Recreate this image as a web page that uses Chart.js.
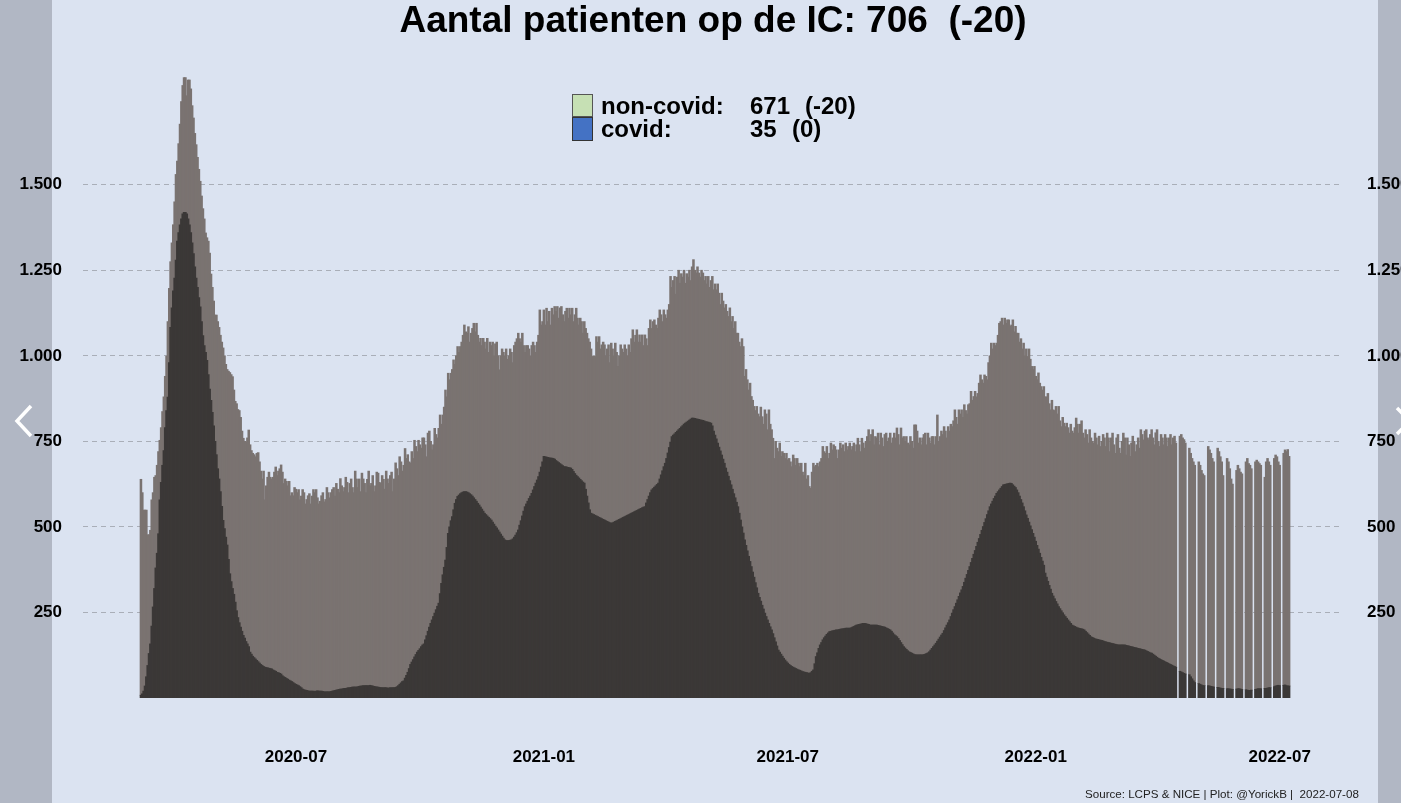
<!DOCTYPE html>
<html>
<head>
<meta charset="utf-8">
<script src="https://cdn.jsdelivr.net/npm/chart.js@4.4.1/dist/chart.umd.min.js"></script>
<style>
html, body { margin: 0; padding: 0; width: 1401px; height: 803px; overflow: hidden; background: #dbe3f1; font-family: 'Liberation Sans', Arial, sans-serif; }
.side { position: absolute; top: 0; height: 803px; background: #b1b7c4; }
#pijlen { position: absolute; left: 0; top: 0; }
#c { position: absolute; left: 0; top: 0; }
.leg { position: absolute; font-weight: bold; font-size: 24px; line-height: 24px; color: #000; white-space: pre; }
.box { position: absolute; left: 572px; width: 19px; border: 1px solid #555; }
#bron { position: absolute; left: 1085px; top: 787px; font-size: 11.6px; line-height: 13px; color: #222; white-space: pre; }
</style>
</head>
<body>
<div class="side" style="left:0;width:52px"></div>
<div class="side" style="left:1378px;width:23px"></div>
<svg id="pijlen" width="1401" height="803">
  <polyline points="31,406 17,421 31,436" fill="none" stroke="#fff" stroke-width="3.5"/>
  <polyline points="1397,408 1410,421 1397,434" fill="none" stroke="#fff" stroke-width="3.5"/>
</svg>
<canvas id="c" width="1401" height="803"></canvas>

<div class="box" style="top:94px;height:21px;background:#c6e0b4"></div>
<div class="box" style="top:117px;height:22px;background:#4472c4;border-color:#333"></div>
<div class="leg" style="left:601px;top:94px">non-covid:</div>
<div class="leg" style="left:750px;top:94px">671</div>
<div class="leg" style="left:805px;top:94px">(-20)</div>
<div class="leg" style="left:601px;top:117px">covid:</div>
<div class="leg" style="left:750px;top:117px">35</div>
<div class="leg" style="left:792px;top:117px">(0)</div>
<div id="bron">Source: LCPS &amp; NICE | Plot: @YorickB |  2022-07-08</div>

<script>
// eerste dag van de reeks, daarna 1 waarde per dag
const startDatum = '2020-03-08';
const tickDatums = ['2020-07-01', '2021-01-01', '2021-07-01', '2022-01-01', '2022-07-01'];
const yTicks = [250, 500, 750, 1000, 1250, 1500];

// totaal op de IC (covid + non-covid), per week zo-za
const totaalIC = [
  639, 600, 549, 549, 549, 477, 477,
  490, 579, 600, 645, 650, 680, 720,
  753, 790, 837, 880, 940, 999, 1100,
  1197, 1275, 1330, 1383, 1450, 1530, 1569,
  1620, 1677, 1743, 1790, 1813, 1813, 1760,
  1806, 1806, 1780, 1731, 1695, 1650, 1617,
  1580, 1545, 1510, 1467, 1430, 1400, 1359,
  1345, 1335, 1300, 1239, 1200, 1160, 1119,
  1119, 1100, 1083, 1060, 1040, 1023, 1000,
  975, 960, 955, 951, 945, 939, 900,
  867, 860, 843, 840, 820, 780, 759,
  750, 747, 760, 783, 740, 723, 715,
  711, 705, 715, 717, 690, 663, 640,
  663, 579, 620, 645, 660, 645, 640,
  645, 660, 675, 650, 663, 670, 681,
  660, 627, 640, 633, 620, 633, 591,
  600, 591, 615, 610, 600, 609, 579,
  590, 609, 600, 567, 580, 591, 597,
  567, 590, 609, 600, 609, 585, 567,
  575, 591, 600, 573, 580, 615, 600,
  585, 600, 609, 615, 590, 627, 610,
  600, 641, 620, 603, 615, 645, 630,
  600, 627, 640, 615, 600, 663, 640,
  615, 640, 603, 657, 640, 627, 600,
  639, 663, 620, 627, 650, 603, 620,
  660, 657, 630, 627, 650, 639, 610,
  663, 640, 627, 650, 660, 603, 640,
  687, 670, 650, 705, 690, 663, 680,
  729, 700, 711, 690, 687, 720, 700,
  753, 735, 720, 753, 740, 730, 760,
  760, 740, 705, 774, 780, 750, 725,
  740, 788, 770, 760, 788, 827, 800,
  827, 850, 900, 880, 949, 930, 949,
  960, 988, 975, 1000, 1027, 1010, 1027,
  1040, 1060, 1090, 1070, 1066, 1085, 1040,
  1066, 1080, 1095, 1070, 1095, 1060, 1040,
  1051, 1030, 1051, 1040, 1020, 1051, 1010,
  1040, 1030, 1040, 1000, 1035, 1040, 1000,
  959, 1000, 1020, 1010, 1000, 1020, 990,
  1000, 1020, 1010, 980, 1030, 1040, 1050,
  1066, 1050, 1040, 1066, 1030, 1010, 1030,
  1030, 1020, 1000, 1030, 1040, 1030, 1010,
  1040, 1060, 1134, 1090, 1100, 1134, 1090,
  1139, 1100, 1130, 1090, 1139, 1120, 1144,
  1130, 1144, 1110, 1140, 1144, 1120, 1100,
  1130, 1139, 1110, 1139, 1120, 1139, 1100,
  1120, 1139, 1110, 1090, 1110, 1100, 1066,
  1100, 1080, 1066, 1050, 1040, 1020, 998,
  1000, 998, 1056, 1040, 1056, 1020, 1032,
  1040, 1032, 1000, 1020, 1032, 980, 1037,
  1020, 1000, 1037, 1010, 969, 1000, 1032,
  1020, 1010, 1032, 1020, 1000, 1032, 1010,
  1050, 1076, 1040, 1060, 1076, 1040, 1061,
  1040, 1061, 1030, 1061, 1050, 1030, 1080,
  1105, 1080, 1100, 1105, 1090, 1080, 1110,
  1134, 1120, 1100, 1134, 1120, 1110, 1134,
  1150, 1232, 1200, 1220, 1232, 1180, 1230,
  1250, 1212, 1240, 1230, 1250, 1212, 1240,
  1230, 1250, 1220, 1260, 1281, 1250, 1242,
  1260, 1242, 1230, 1250, 1242, 1220, 1232,
  1210, 1232, 1200, 1220, 1232, 1193, 1210,
  1193, 1210, 1183, 1150, 1183, 1160, 1140,
  1150, 1130, 1115, 1140, 1100, 1115, 1080,
  1100, 1066, 1066, 1040, 1027, 1050, 1027,
  940, 960, 930, 900, 920, 881, 870,
  852, 840, 852, 830, 822, 850, 822,
  800, 842, 830, 784, 842, 800, 784,
  759, 700, 750, 730, 720, 745, 706,
  720, 715, 700, 715, 696, 700, 690,
  676, 710, 700, 680, 700, 686, 676,
  686, 660, 650, 686, 640, 650, 618,
  613, 660, 686, 676, 680, 686, 676,
  690, 700, 735, 720, 715, 735, 700,
  715, 745, 725, 740, 735, 725, 700,
  725, 745, 730, 740, 720, 745, 725,
  735, 745, 725, 735, 745, 720, 740,
  759, 740, 720, 759, 745, 730, 750,
  764, 784, 750, 770, 784, 740, 764,
  760, 774, 740, 774, 760, 735, 770,
  774, 750, 760, 774, 745, 760, 774,
  760, 789, 770, 740, 789, 760, 764,
  750, 764, 745, 740, 764, 750, 730,
  798, 798, 780, 745, 760, 740, 760,
  770, 774, 740, 774, 760, 745, 764,
  764, 740, 764, 827, 750, 764, 780,
  770, 793, 780, 760, 793, 780, 800,
  793, 810, 842, 820, 800, 842, 830,
  842, 820, 857, 840, 830, 857, 860,
  896, 870, 881, 896, 880, 890, 920,
  944, 930, 920, 944, 940, 930, 980,
  1000, 1037, 1020, 1037, 1030, 1037, 1060,
  1095, 1100, 1110, 1090, 1110, 1095, 1105,
  1105, 1086, 1090, 1105, 1070, 1086, 1066,
  1066, 1040, 1050, 1020, 1037, 1000, 1020,
  998, 1020, 990, 969, 960, 969, 940,
  930, 950, 920, 910, 900, 910, 880,
  880, 890, 860, 842, 870, 842, 840,
  852, 830, 852, 810, 793, 820, 803,
  793, 803, 790, 774, 800, 780, 774,
  790, 818, 800, 774, 800, 810, 774,
  760, 784, 770, 745, 784, 760, 750,
  745, 774, 760, 740, 765, 735, 750,
  770, 760, 735, 774, 760, 720, 760,
  774, 740, 715, 760, 770, 730, 715,
  750, 774, 760, 710, 760, 740, 706,
  745, 765, 750, 720, 740, 760, 730,
  784, 770, 754, 780, 784, 760, 754,
  770, 784, 760, 740, 775, 784, 750,
  735, 770, 760, 740, 770, 760, 735,
  760, 770, 740, 760, 765, 745, null,
  null, 765, 770, 760, 755, 745, null,
  null, 730, 715, 700, 690, 680, null,
  null, 690, 680, 665, 655, 650, null,
  null, 735, 725, 715, 700, 690, null,
  null, 730, 720, 705, 690, 650, null,
  null, 700, 690, 670, 640, 625, null,
  null, 665, 680, 670, 660, 655, null,
  null, 690, 700, 685, 680, 670, null,
  null, 690, 695, 690, 685, 680, null,
  null, 645, 690, 700, 690, 680, null,
  null, 700, 710, 705, 690, 680, null,
  null, 715, 725, 720, 726, 706
];

// covid-patienten op de IC, zelfde dagen
const covidIC = [
  8, 12, 20, 35, 62, 95, 130,
  158, 210, 266, 320, 380, 423, 480,
  579, 630, 680, 723, 790, 840, 879,
  980, 1083, 1140, 1190, 1227, 1280, 1335,
  1360, 1383, 1400, 1415, 1419, 1419, 1415,
  1400, 1383, 1360, 1330, 1299, 1260, 1227,
  1200, 1170, 1143, 1100, 1059, 1030, 1010,
  987, 945, 903, 870, 835, 795, 750,
  711, 670, 640, 603, 560, 519, 495,
  470, 447, 405, 363, 340, 320, 303,
  280, 255, 235, 220, 207, 195, 183,
  175, 165, 158, 150, 134, 128, 122,
  118, 114, 110, 106, 102, 98, 95,
  92, 90, 89, 88, 87, 86, 85,
  82, 80, 78, 75, 74, 72, 70,
  65, 62, 60, 57, 55, 52, 50,
  48, 45, 42, 40, 38, 36, 33,
  30, 26, 24, 23, 22, 21, 20,
  20, 20, 20, 19, 20, 21, 20,
  20, 20, 19, 18, 18, 18, 18,
  18, 19, 20, 21, 22, 23, 24,
  25, 26, 26, 27, 28, 28, 29,
  30, 30, 31, 32, 32, 32, 32,
  33, 34, 35, 35, 36, 36, 36,
  36, 36, 37, 36, 35, 34, 33,
  32, 32, 31, 30, 30, 30, 30,
  30, 29, 29, 30, 30, 30, 30,
  31, 33, 36, 40, 44, 48, 50,
  58, 66, 75, 86, 98, 105, 112,
  120, 127, 134, 139, 144, 150, 155,
  158, 170, 182, 195, 207, 218, 228,
  238, 248, 258, 268, 277, 305, 335,
  360, 382, 403, 440, 481, 500, 518,
  530, 550, 569, 580, 589, 593, 597,
  600, 602, 603, 603, 602, 600, 597,
  594, 590, 585, 580, 575, 569, 564,
  558, 552, 546, 540, 536, 532, 528,
  524, 520, 514, 508, 502, 497, 491,
  485, 479, 473, 467, 462, 460, 460,
  460, 461, 462, 465, 470, 476, 483,
  491, 505, 518, 532, 546, 559, 567,
  575, 583, 590, 598, 608, 618, 628,
  637, 647, 660, 675, 690, 706, 705,
  704, 703, 702, 701, 701, 700, 698,
  694, 691, 688, 685, 682, 679, 676,
  676, 675, 674, 673, 672, 668, 662,
  656, 651, 647, 643, 639, 635, 631,
  628, 610, 590, 570, 550, 540, 538,
  536, 534, 532, 530, 528, 526, 524,
  522, 520, 518, 516, 514, 512, 511,
  512, 514, 516, 518, 520, 522, 524,
  526, 528, 530, 532, 534, 536, 538,
  540, 542, 544, 546, 548, 550, 552,
  554, 556, 558, 559, 570, 580, 590,
  600, 608, 612, 616, 620, 624, 628,
  640, 652, 664, 676, 686, 700, 716,
  732, 748, 764, 768, 772, 776, 780,
  784, 788, 792, 796, 800, 803, 806,
  809, 812, 815, 818, 818, 817, 816,
  815, 814, 813, 812, 811, 810, 808,
  807, 806, 805, 803, 795, 780, 768,
  757, 745, 733, 722, 710, 698, 686,
  672, 660, 648, 635, 623, 610, 597,
  585, 572, 559, 540, 520, 500, 482,
  462, 446, 430, 414, 399, 384, 368,
  353, 337, 322, 306, 294, 283, 271,
  260, 248, 238, 228, 218, 208, 199,
  188, 176, 164, 152, 140, 134, 128,
  122, 116, 111, 106, 102, 98, 95,
  92, 90, 88, 86, 84, 82, 81,
  79, 77, 76, 75, 74, 73, 72,
  74, 78, 82, 100, 121, 132, 145,
  155, 162, 170, 176, 181, 186, 190,
  194, 195, 196, 197, 198, 199, 199,
  200, 201, 202, 202, 203, 204, 204,
  204, 204, 205, 207, 209, 211, 213,
  214, 215, 216, 217, 218, 218, 217,
  216, 215, 213, 213, 213, 213, 213,
  213, 212, 211, 210, 209, 208, 207,
  205, 203, 201, 199, 195, 190, 185,
  182, 179, 174, 168, 162, 156, 150,
  146, 142, 138, 135, 133, 131, 129,
  127, 126, 126, 126, 126, 126, 126,
  127, 128, 130, 132, 135, 140, 145,
  150, 155, 160, 166, 172, 178, 184,
  189, 197, 205, 213, 220, 228, 238,
  248, 258, 267, 277, 287, 297, 307,
  316, 326, 338, 350, 361, 373, 384,
  396, 408, 420, 431, 443, 455, 466,
  478, 490, 501, 513, 524, 536, 547,
  559, 567, 575, 583, 590, 598, 603,
  608, 613, 618, 623, 624, 625, 626,
  627, 628, 627, 623, 619, 615, 608,
  600, 590, 580, 570, 559, 547, 535,
  525, 514, 503, 492, 481, 470, 458,
  446, 435, 423, 411, 400, 388, 365,
  353, 341, 329, 318, 306, 298, 290,
  282, 275, 267, 261, 255, 249, 243,
  238, 233, 228, 223, 218, 213, 211,
  209, 207, 205, 204, 203, 202, 201,
  199, 195, 191, 187, 183, 179, 177,
  175, 173, 172, 171, 170, 169, 168,
  167, 165, 164, 163, 162, 161, 160,
  159, 158, 157, 156, 155, 155, 155,
  155, 155, 155, 154, 153, 152, 151,
  150, 149, 148, 147, 146, 145, 144,
  143, 142, 141, 140, 138, 136, 134,
  132, 131, 128, 125, 122, 119, 116,
  114, 112, 110, 108, 106, 104, 102,
  100, 98, 96, 94, 92, 90, null,
  null, 78, 76, 74, 72, 70, null,
  null, 68, 62, 56, 50, 45, null,
  null, 42, 40, 38, 36, 36, null,
  null, 36, 35, 34, 33, 32, null,
  null, 31, 30, 29, 28, 28, null,
  null, 27, 27, 26, 26, 25, null,
  null, 26, 27, 27, 26, 25, null,
  null, 24, 23, 22, 22, 23, null,
  null, 25, 26, 27, 27, 27, null,
  null, 28, 28, 29, 30, 30, null,
  null, 33, 35, 36, 37, 36, null,
  null, 37, 38, 36, 35, 35
];

const fontFam = "'Liberation Sans', Arial, sans-serif";
const dagMs = 86400000;
const dagNr = d => Math.round((Date.parse(d) - Date.parse(startDatum)) / dagMs);
const tickDagen = tickDatums.map(dagNr);
const tickLabels = tickDatums.map(d => d.slice(0, 7));

const nonCovidIC = totaalIC.map((t, i) => t == null ? null : t - covidIC[i]);
const covidData = covidIC.map((v, i) => ({ x: i, y: v }));
const nonCovidData = nonCovidIC.map((v, i) => ({ x: i, y: v }));

const metPunt = v => String(v).replace(/\B(?=(\d{3})+(?!\d))/g, '.');

const tickFont = { family: fontFam, size: 17, weight: 'bold' };

new Chart(document.getElementById('c'), {
  type: 'bar',
  data: {
    datasets: [
      { label: 'covid', data: covidData, backgroundColor: '#3b3837', borderWidth: 0, inflateAmount: 0.4 },
      { label: 'non-covid', data: nonCovidData, backgroundColor: '#7a7371', borderWidth: 0, inflateAmount: 0.4 }
    ]
  },
  options: {
    responsive: false,
    animation: false,
    layout: { padding: 0 },
    datasets: { bar: { categoryPercentage: 1, barPercentage: 1.3 } },
    plugins: {
      legend: { display: false },
      tooltip: { enabled: false },
      title: {
        display: true,
        fullSize: false,
        text: 'Aantal patienten op de IC: 706  (-20)',
        color: '#000',
        font: { family: fontFam, size: 37, weight: 'bold', lineHeight: 1 },
        padding: { top: 3, bottom: 25 }
      }
    },
    scales: {
      x: {
        type: 'linear',
        stacked: true,
        offset: false,
        min: -43,
        max: 892,
        afterBuildTicks: s => { s.ticks = tickDagen.map(v => ({ value: v })); },
        afterFit: s => { s.height = 105; },
        grid: { display: false, drawTicks: false },
        border: { display: false },
        ticks: {
          autoSkip: false,
          maxRotation: 0,
          padding: 49,
          color: '#000',
          font: tickFont,
          callback: (v, i) => tickLabels[i]
        }
      },
      y: {
        stacked: true,
        position: 'left',
        min: 0,
        max: 1850,
        afterBuildTicks: s => { s.ticks = yTicks.map(v => ({ value: v })); },
        afterFit: s => { s.width = 83; },
        grid: { color: '#a9aeb8', lineWidth: 1, drawTicks: false },
        border: { display: false, dash: [5, 4] },
        ticks: { padding: 21, color: '#000', font: tickFont, callback: v => metPunt(v) }
      },
      y1: {
        position: 'right',
        min: 0,
        max: 1850,
        afterBuildTicks: s => { s.ticks = yTicks.map(v => ({ value: v })); },
        afterFit: s => { s.width = 58; },
        grid: { display: false, drawTicks: false },
        border: { display: false },
        ticks: { padding: 24, color: '#000', font: tickFont, callback: v => metPunt(v) }
      }
    }
  }
});
</script>
</body>
</html>
